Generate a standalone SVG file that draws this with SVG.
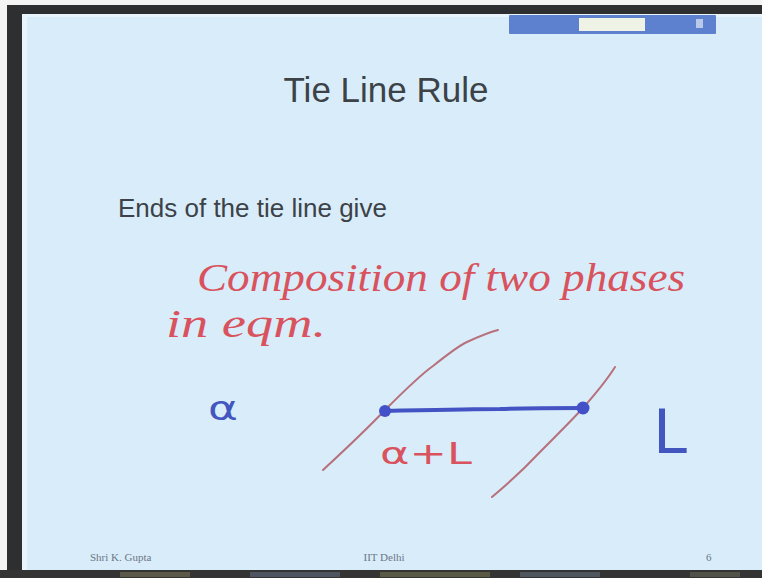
<svg xmlns="http://www.w3.org/2000/svg" width="762" height="578" viewBox="0 0 762 578">
  <defs>
    <style>
      .title { font-family: "Liberation Sans", Arial, sans-serif; font-size: 35px; fill: #3c4248; }
      .body { font-family: "Liberation Sans", Arial, sans-serif; font-size: 26px; fill: #3c4248; }
      .hand-red { font-family: "Liberation Serif", serif; font-style: italic; fill: #d9535e; }
      .hand-red-sans { font-family: "DejaVu Sans", sans-serif; fill: #d9535e; }
      .hand-blue { font-family: "DejaVu Sans", sans-serif; fill: #4356c0; }
      .footer { font-family: "Liberation Serif", serif; font-size: 11px; fill: #6d7585; }
      .curve { fill: none; stroke: #b7707c; stroke-width: 2; stroke-linecap: round; }
      .tie { fill: none; stroke: #4453c4; stroke-width: 4; stroke-linecap: round; }
      .dot { fill: #4350c8; }
    </style>
  </defs>

  <!-- frame -->
  <rect x="0" y="0" width="762" height="578" fill="#2e2f31"/>
  <rect x="0" y="0" width="762" height="5" fill="#f4f4f4"/>
  <rect x="0" y="0" width="7" height="578" fill="#f4f4f4"/>
  <rect x="22" y="14" width="740" height="556" fill="#d8edf9"/>
  <rect x="22" y="14" width="5" height="556" fill="#e9f4fb"/>
  <rect x="22" y="14" width="740" height="3" fill="#e9f4fb"/>

  <!-- toolbar -->
  <g id="toolbar">
    <rect x="509" y="15" width="207" height="19" rx="1" fill="#5d80cf"/>
    <rect x="579" y="18" width="66" height="13" fill="#eef3e6"/>
    <rect x="696" y="19" width="7" height="9" fill="#b9c9ea"/>
  </g>

  <!-- bottom strip -->
  <g id="bottom-strip">
    <rect x="0" y="570" width="762" height="8" fill="#343434"/>
    <rect x="120" y="572" width="70" height="5" fill="#6d6a55" opacity="0.7"/>
    <rect x="250" y="572" width="90" height="5" fill="#5b6473" opacity="0.7"/>
    <rect x="380" y="572" width="110" height="5" fill="#6a6a4f" opacity="0.7"/>
    <rect x="520" y="572" width="80" height="5" fill="#5d6570" opacity="0.7"/>
    <rect x="690" y="572" width="50" height="5" fill="#5f5f52" opacity="0.7"/>
  </g>

  <g id="title">
    <text class="title" x="386" y="102" text-anchor="middle">Tie Line Rule</text>
  </g>

  <g id="bullet">
    <text class="body" x="118" y="217">Ends of the tie line give</text>
  </g>

  <g id="handwriting">
    <text class="hand-red" x="197" y="291" font-size="40" textLength="488" lengthAdjust="spacingAndGlyphs">Composition of two phases</text>
    <text class="hand-red" x="166" y="337" font-size="40" textLength="160" lengthAdjust="spacingAndGlyphs">in eqm.</text>
  </g>

  <g id="connectors">
    <path class="curve" d="M323,470 C350,445 368,428 385,410 C405,390 420,375 433,366 C448,354 458,346 467,342 C480,336 490,332 498,330"/>
    <path class="curve" d="M492,497 C510,482 525,468 540,452 C556,436 570,422 583,408 C597,392 607,380 615,367"/>
    <path class="tie" d="M385,411 C430,410 470,409 500,409 C530,408 560,408 583,408"/>
  </g>

  <g id="node-alpha-end">
    <circle class="dot" cx="385" cy="411" r="6"/>
  </g>
  <g id="node-liquid-end">
    <circle class="dot" cx="583" cy="408" r="6.5"/>
  </g>

  <g id="label-alpha">
    <text class="hand-blue" x="208" y="420" font-size="34" textLength="30" lengthAdjust="spacingAndGlyphs">α</text>
  </g>
  <g id="label-alpha-L">
    <text class="hand-red-sans" x="380" y="464" font-size="30" textLength="92" lengthAdjust="spacingAndGlyphs">α+L</text>
  </g>
  <g id="label-L">
    <text class="hand-blue" x="653" y="453" font-size="60" textLength="34" lengthAdjust="spacingAndGlyphs">L</text>
  </g>

  <g id="footer">
    <text class="footer" x="90" y="561">Shri K. Gupta</text>
    <text class="footer" x="384" y="561" text-anchor="middle">IIT Delhi</text>
    <text class="footer" x="706" y="561">6</text>
  </g>
</svg>
